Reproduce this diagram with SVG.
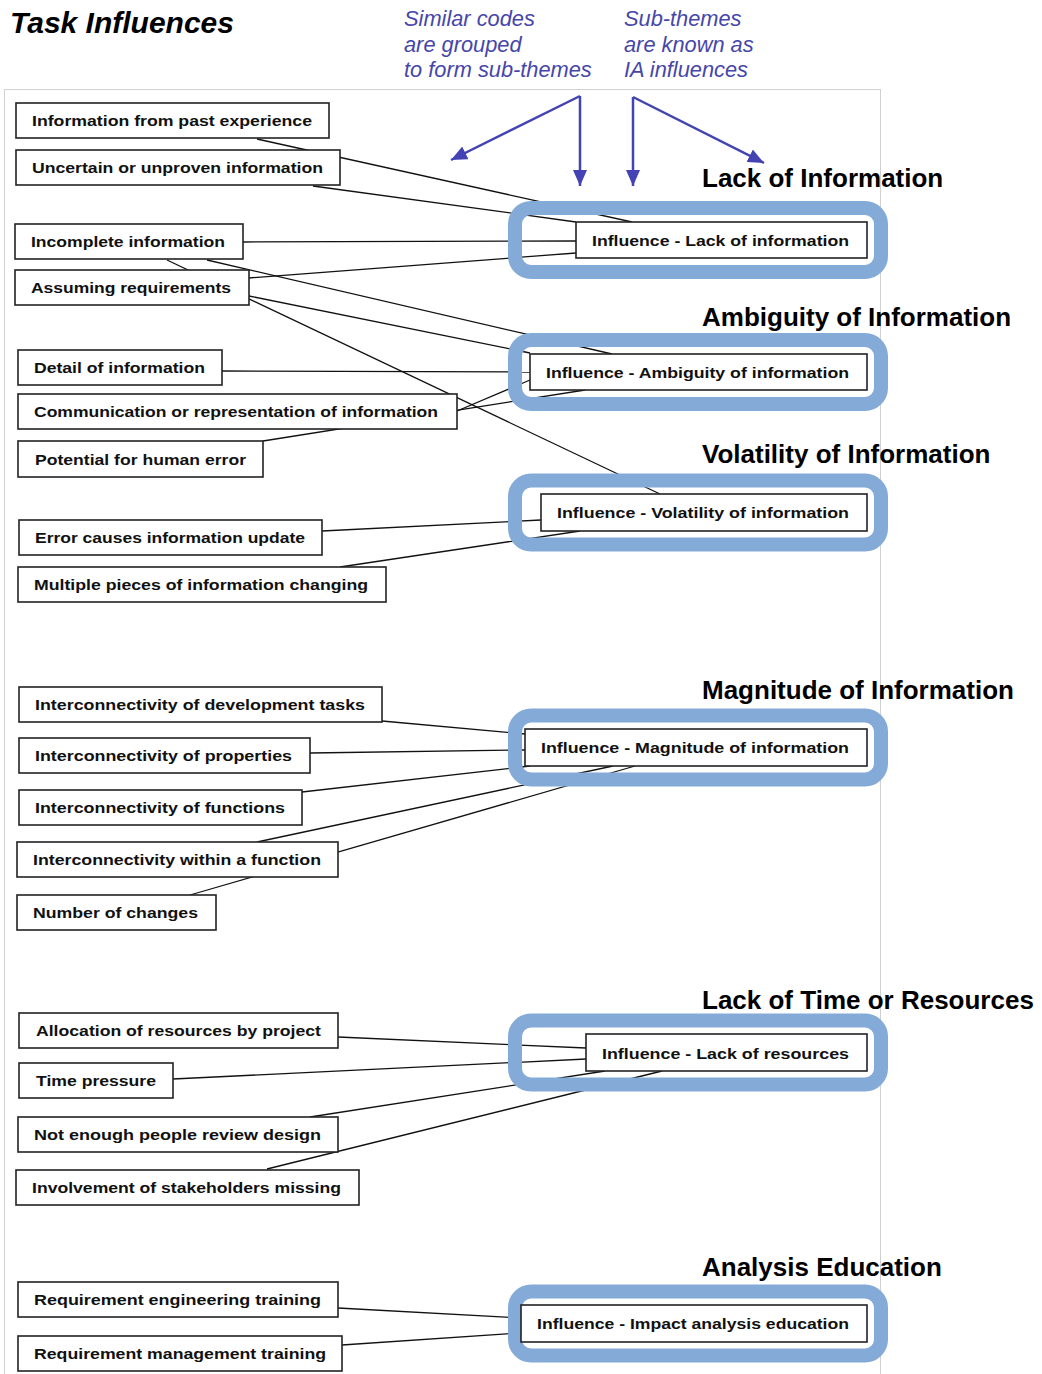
<svg xmlns="http://www.w3.org/2000/svg" width="1042" height="1374" viewBox="0 0 1042 1374">
  <style>
    .code rect { fill: #ffffff; stroke: #222222; stroke-width: 1.6; }
    .code text, .infl text { font-family: "Liberation Sans", Arial, sans-serif; font-weight: bold; font-size: 15.5px; fill: #111111; }
    .infl rect.box { fill: #ffffff; stroke: #222222; stroke-width: 1.6; }
    .ring { fill: none; stroke: #84AAD7; stroke-width: 14; }
    .theme { font-family: "Liberation Sans", Arial, sans-serif; font-weight: bold; font-size: 26px; fill: #000000; }
    .note { font-family: "Liberation Sans", Arial, sans-serif; font-style: italic; font-size: 21.8px; fill: #4646AA; }
    .links line { stroke: #111111; stroke-width: 1.3; }
    .pointer { stroke: #4343B3; stroke-width: 2.5; fill: none; }
  </style>
  <defs>
    <marker id="tip" markerUnits="userSpaceOnUse" markerWidth="18" markerHeight="16" refX="16" refY="7" orient="auto">
      <path d="M0,0 L16,7 L0,14 Z" fill="#4343B3"/>
    </marker>
  </defs>

  <rect width="1042" height="1374" fill="#ffffff"/>

  <!-- panel frame -->
  <rect x="4.5" y="89.5" width="876" height="1300" fill="none" stroke="#d0d0d0" stroke-width="1"/>

  <!-- heading and notes -->
  <text x="10" y="33" font-family="Liberation Sans, Arial, sans-serif" font-weight="bold" font-style="italic" font-size="30" fill="#000">Task Influences</text>
  <g id="note-grouping">
    <text class="note" x="404" y="26">Similar codes</text>
    <text class="note" x="404" y="51.5">are grouped</text>
    <text class="note" x="404" y="77">to form sub-themes</text>
  </g>
  <g id="note-influences">
    <text class="note" x="624" y="26">Sub-themes</text>
    <text class="note" x="624" y="51.5">are known as</text>
    <text class="note" x="624" y="77">IA influences</text>
  </g>
  <g id="pointers">
    <line class="pointer" x1="580" y1="96" x2="451" y2="160" marker-end="url(#tip)"/>
    <line class="pointer" x1="580" y1="96" x2="580" y2="186" marker-end="url(#tip)"/>
    <line class="pointer" x1="633" y1="97" x2="633" y2="186" marker-end="url(#tip)"/>
    <line class="pointer" x1="633" y1="97" x2="764" y2="163" marker-end="url(#tip)"/>
  </g>

  <!-- sub-theme titles -->
  <text class="theme" x="702" y="187">Lack of Information</text>
  <text class="theme" x="702" y="326">Ambiguity of Information</text>
  <text class="theme" x="702" y="463">Volatility of Information</text>
  <text class="theme" x="702" y="699">Magnitude of Information</text>
  <text class="theme" x="702" y="1009">Lack of Time or Resources</text>
  <text class="theme" x="702" y="1276">Analysis Education</text>

  <!-- connectors between codes and influences -->
  <g id="connectors" class="links">
    <line x1="257" y1="139" x2="632" y2="222"/>
    <line x1="313" y1="186" x2="576" y2="222"/>
    <line x1="243" y1="242" x2="576" y2="241"/>
    <line x1="249" y1="278" x2="576" y2="253"/>

    <line x1="207" y1="260" x2="612" y2="354"/>
    <line x1="249" y1="296" x2="530" y2="353"/>
    <line x1="222" y1="371" x2="530" y2="372"/>
    <line x1="457" y1="411" x2="530" y2="380"/>
    <line x1="263" y1="441" x2="585" y2="390"/>

    <line x1="167" y1="260" x2="660" y2="494"/>
    <line x1="322" y1="531" x2="541" y2="520"/>
    <line x1="340" y1="567" x2="580" y2="531"/>

    <line x1="382" y1="721" x2="525" y2="734"/>
    <line x1="310" y1="753" x2="525" y2="750"/>
    <line x1="302" y1="792" x2="530" y2="766"/>
    <line x1="257" y1="842" x2="613" y2="766"/>
    <line x1="190" y1="895" x2="635" y2="766"/>

    <line x1="338" y1="1037" x2="586" y2="1048"/>
    <line x1="173" y1="1079" x2="586" y2="1059"/>
    <line x1="310" y1="1117" x2="605" y2="1071"/>
    <line x1="267" y1="1169" x2="662" y2="1071"/>

    <line x1="338" y1="1308" x2="520" y2="1318"/>
    <line x1="342" y1="1345" x2="520" y2="1333"/>
  </g>

  <!-- code nodes -->
  <g id="code-past-experience" class="code"><rect x="16" y="103" width="313" height="35"/><text x="32" y="126" textLength="280" lengthAdjust="spacingAndGlyphs">Information from past experience</text></g>
  <g id="code-uncertain" class="code"><rect x="16" y="150" width="324" height="35"/><text x="32" y="173" textLength="291" lengthAdjust="spacingAndGlyphs">Uncertain or unproven information</text></g>
  <g id="code-incomplete" class="code"><rect x="15" y="224" width="228" height="35"/><text x="31" y="247" textLength="194" lengthAdjust="spacingAndGlyphs">Incomplete information</text></g>
  <g id="code-assuming" class="code"><rect x="15" y="270" width="234" height="35"/><text x="31" y="293" textLength="200" lengthAdjust="spacingAndGlyphs">Assuming requirements</text></g>
  <g id="code-detail" class="code"><rect x="18" y="350" width="204" height="35"/><text x="34" y="373" textLength="171" lengthAdjust="spacingAndGlyphs">Detail of information</text></g>
  <g id="code-communication" class="code"><rect x="18" y="394" width="439" height="35"/><text x="34" y="417" textLength="404" lengthAdjust="spacingAndGlyphs">Communication or representation of information</text></g>
  <g id="code-human-error" class="code"><rect x="18" y="441" width="245" height="36"/><text x="35" y="465" textLength="211" lengthAdjust="spacingAndGlyphs">Potential for human error</text></g>
  <g id="code-error-update" class="code"><rect x="19" y="520" width="303" height="35"/><text x="35" y="543" textLength="270" lengthAdjust="spacingAndGlyphs">Error causes information update</text></g>
  <g id="code-multiple-changing" class="code"><rect x="18" y="567" width="368" height="35"/><text x="34" y="590" textLength="334" lengthAdjust="spacingAndGlyphs">Multiple pieces of information changing</text></g>

  <g id="code-dev-tasks" class="code"><rect x="19" y="687" width="363" height="35"/><text x="35" y="710" textLength="330" lengthAdjust="spacingAndGlyphs">Interconnectivity of development tasks</text></g>
  <g id="code-properties" class="code"><rect x="19" y="738" width="291" height="35"/><text x="35" y="761" textLength="257" lengthAdjust="spacingAndGlyphs">Interconnectivity of properties</text></g>
  <g id="code-functions" class="code"><rect x="19" y="790" width="283" height="35"/><text x="35" y="813" textLength="250" lengthAdjust="spacingAndGlyphs">Interconnectivity of functions</text></g>
  <g id="code-within-function" class="code"><rect x="17" y="842" width="321" height="35"/><text x="33" y="865" textLength="288" lengthAdjust="spacingAndGlyphs">Interconnectivity within a function</text></g>
  <g id="code-number-changes" class="code"><rect x="17" y="895" width="199" height="35"/><text x="33" y="918" textLength="165" lengthAdjust="spacingAndGlyphs">Number of changes</text></g>

  <g id="code-allocation" class="code"><rect x="19" y="1013" width="319" height="35"/><text x="36" y="1036" textLength="285" lengthAdjust="spacingAndGlyphs">Allocation of resources by project</text></g>
  <g id="code-time-pressure" class="code"><rect x="19" y="1063" width="154" height="35"/><text x="36" y="1086" textLength="120" lengthAdjust="spacingAndGlyphs">Time pressure</text></g>
  <g id="code-review" class="code"><rect x="18" y="1117" width="320" height="35"/><text x="34" y="1140" textLength="287" lengthAdjust="spacingAndGlyphs">Not enough people review design</text></g>
  <g id="code-stakeholders" class="code"><rect x="16" y="1170" width="343" height="35"/><text x="32" y="1193" textLength="309" lengthAdjust="spacingAndGlyphs">Involvement of stakeholders missing</text></g>

  <g id="code-re-training" class="code"><rect x="18" y="1282" width="320" height="35"/><text x="34" y="1305" textLength="287" lengthAdjust="spacingAndGlyphs">Requirement engineering training</text></g>
  <g id="code-rm-training" class="code"><rect x="18" y="1336" width="324" height="35"/><text x="34" y="1359" textLength="292" lengthAdjust="spacingAndGlyphs">Requirement management training</text></g>

  <!-- influence nodes with their highlight rings -->
  <g id="infl-lack-info" class="infl">
    <rect class="ring" x="515" y="208" width="366" height="64" rx="16"/>
    <rect class="box" x="576" y="222" width="291" height="36"/>
    <text x="592" y="246" textLength="257" lengthAdjust="spacingAndGlyphs">Influence - Lack of information</text>
  </g>
  <g id="infl-ambiguity" class="infl">
    <rect class="ring" x="515" y="340" width="366" height="64" rx="16"/>
    <rect class="box" x="530" y="354" width="337" height="36"/>
    <text x="546" y="378" textLength="303" lengthAdjust="spacingAndGlyphs">Influence - Ambiguity of information</text>
  </g>
  <g id="infl-volatility" class="infl">
    <rect class="ring" x="515" y="480.5" width="366" height="64" rx="16"/>
    <rect class="box" x="541" y="494" width="326" height="37"/>
    <text x="557" y="518" textLength="292" lengthAdjust="spacingAndGlyphs">Influence - Volatility of information</text>
  </g>
  <g id="infl-magnitude" class="infl">
    <rect class="ring" x="515" y="715.5" width="366" height="64" rx="16"/>
    <rect class="box" x="525" y="729" width="342" height="37"/>
    <text x="541" y="753" textLength="308" lengthAdjust="spacingAndGlyphs">Influence - Magnitude of information</text>
  </g>
  <g id="infl-lack-resources" class="infl">
    <rect class="ring" x="515" y="1020.5" width="366" height="64" rx="16"/>
    <rect class="box" x="586" y="1034" width="281" height="37"/>
    <text x="602" y="1059" textLength="247" lengthAdjust="spacingAndGlyphs">Influence - Lack of resources</text>
  </g>
  <g id="infl-education" class="infl">
    <rect class="ring" x="515" y="1291.5" width="366" height="64" rx="16"/>
    <rect class="box" x="521" y="1305" width="346" height="37"/>
    <text x="537" y="1329" textLength="312" lengthAdjust="spacingAndGlyphs">Influence - Impact analysis education</text>
  </g>
</svg>
